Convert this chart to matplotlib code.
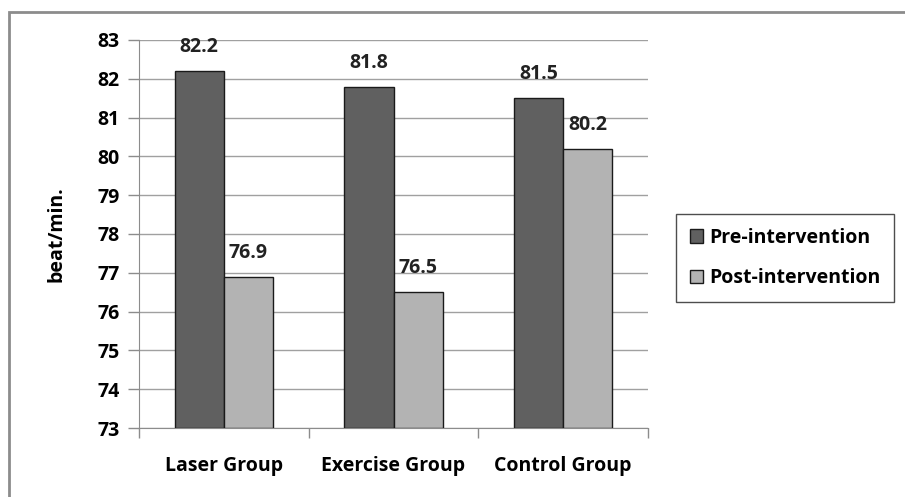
import matplotlib
matplotlib.use("Agg")
import matplotlib.pyplot as plt
from matplotlib.patches import Rectangle
import numpy as np

groups = ["Laser Group", "Exercise Group", "Control Group"]
pre = [82.2, 81.8, 81.5]
post = [76.9, 76.5, 80.2]
series_names = ["Pre-intervention", "Post-intervention"]
yticks = [73, 74, 75, 76, 77, 78, 79, 80, 81, 82, 83]

plt.rcParams['font.family'] = ['Open Sans', 'DejaVu Sans']

fig = plt.figure(figsize=(9.05, 4.97), dpi=100)
fig.patches.append(Rectangle((9 / 905, -0.1), 1.2, 1 - 12 / 497 + 0.1,
                             transform=fig.transFigure, fill=False,
                             edgecolor='#8c8c8c', linewidth=2))
ax = fig.add_axes([139 / 905, 1 - 428 / 497, (648 - 139) / 905, (428 - 40) / 497])

x = np.arange(len(groups))
w = 0.29
b1 = ax.bar(x - w / 2, [v - 73 for v in pre], w, bottom=73, color='#606060',
            edgecolor='#1a1a1a', linewidth=1, label=series_names[0], zorder=3)
b2 = ax.bar(x + w / 2, [v - 73 for v in post], w, bottom=73, color='#b3b3b3',
            edgecolor='#1a1a1a', linewidth=1, label=series_names[1], zorder=3)

for bars, vals in ((b1, pre), (b2, post)):
    for r, v in zip(bars, vals):
        ax.annotate(f"{v:.1f}", (r.get_x() + r.get_width() / 2, v),
                    xytext=(0, 10), textcoords='offset points', ha='center',
                    va='bottom', fontsize=14, fontweight='bold', color='#222222')

ax.set_xlim(-0.5, 2.5)
ax.set_ylim(73, 83)
ax.set_yticks(yticks)
ax.set_yticklabels([str(t) for t in yticks], fontsize=14, fontweight='bold')
ax.set_xticks(x)
ax.set_xticklabels(groups, fontsize=14, fontweight='bold')
ax.tick_params(axis='x', length=0, pad=20)
ax.set_xticks([-0.5, 0.5, 1.5, 2.5], minor=True)
ax.tick_params(axis='x', which='minor', length=7, color='#8c8c8c', width=1)
ax.tick_params(axis='y', length=8, color='#8c8c8c', width=1, pad=6)
ax.yaxis.grid(True, color='#a0a0a0', linewidth=1, zorder=0)
ax.set_axisbelow(True)
for s in ('top', 'right'):
    ax.spines[s].set_visible(False)
for s in ('left', 'bottom'):
    ax.spines[s].set_color('#8c8c8c')
ax.set_ylabel("beat/min.", fontsize=14, fontweight='bold', labelpad=22)

leg = ax.legend(loc='center left', bbox_to_anchor=(676 / 905, 1 - 258 / 497),
                bbox_transform=fig.transFigure, frameon=True,
                prop={'size': 14, 'weight': 'bold'},
                fancybox=False, edgecolor='#222222', handlelength=0.7,
                handleheight=0.7, handletextpad=0.3, labelspacing=1.05,
                borderpad=0.7, borderaxespad=0)
leg.get_frame().set_linewidth(1)

fig.savefig("out.png", dpi=100)
